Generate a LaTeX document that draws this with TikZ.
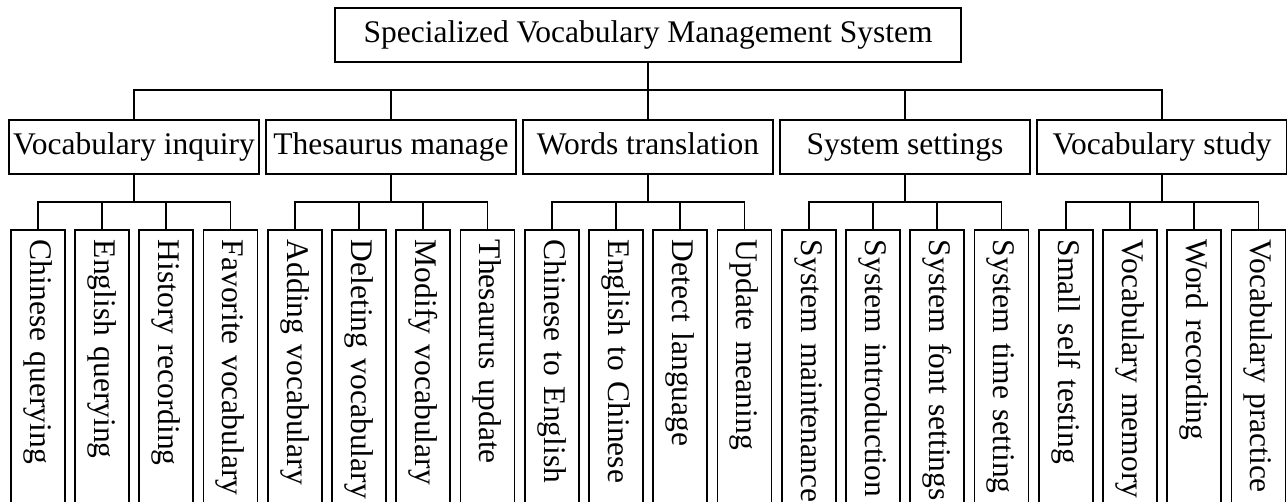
\documentclass[tikz,border=0pt]{standalone}
\usepackage{fontspec}
\setmainfont{Liberation Serif}
\begin{document}
\begin{tikzpicture}[x=1pt,y=1pt,
  every node/.style={font=\fontsize{31.5}{34}\selectfont},
  conn/.style={line width=1.8pt},
  rootbox/.style={draw,line width=1.8pt,minimum width=626pt,minimum height=54pt,inner sep=0pt,text height=22pt,text depth=7pt},
  midbox/.style={draw,line width=1.8pt,minimum width=250pt,minimum height=54pt,inner sep=0pt,text height=22pt,text depth=7pt},
  leafbox/.style={draw,line width=1.8pt,rotate=-90,anchor=west,minimum width=320pt,minimum height=54pt,inner xsep=10pt,inner ysep=0pt,text width=300pt,align=left,text height=22pt,text depth=7pt}]
\useasboundingbox (0,0) rectangle (1287,-501);
\clip (0,0) rectangle (1287,-501);
\node[rootbox] (root) at (648,-35) {Specialized Vocabulary Management System};
\node[midbox] (g1) at (134,-147) {Vocabulary inquiry};
\node[midbox] (g2) at (391,-147) {Thesaurus manage};
\node[midbox] (g3) at (648,-147) {Words translation};
\node[midbox] (g4) at (905,-147) {System settings};
\node[midbox] (g5) at (1162,-147) {Vocabulary study};
% level 3
\foreach \g/\c/\a/\b/\cc/\d in {
  1/134/Chinese querying/English querying/History recording/Favorite vocabulary,
  2/391/Adding vocabulary/Deleting vocabulary/Modify vocabulary/Thesaurus update,
  3/648/Chinese to English/English to Chinese/Detect language/Update meaning,
  4/905/System maintenance/System introduction/System font settings/System time setting,
  5/1162/Small self testing/Vocabulary memory/Word recording/Vocabulary practice}{
  \node[leafbox] (c\g1) at (\c-96.4,-229) {\a};
  \node[leafbox] (c\g2) at (\c-32.1,-229) {\b};
  \node[leafbox] (c\g3) at (\c+32.1,-229) {\cc};
  \node[leafbox] (c\g4) at (\c+96.4,-229) {\d};
  \draw[conn] (g\g.south) -- ++(0,-28);
  \draw[conn] (c\g1.west) -- ++(0,27) -| (c\g4.west);
  \draw[conn] (c\g2.west) -- ++(0,27);
  \draw[conn] (c\g3.west) -- ++(0,27);
}
% level 1 connectors
\draw[conn] (root.south) -- ++(0,-29);
\draw[conn] (g1.north) -- ++(0,29) -| (g5.north);
\draw[conn] (g2.north) -- ++(0,29);
\draw[conn] (g3.north) -- ++(0,29);
\draw[conn] (g4.north) -- ++(0,29);
\end{tikzpicture}
\end{document}
